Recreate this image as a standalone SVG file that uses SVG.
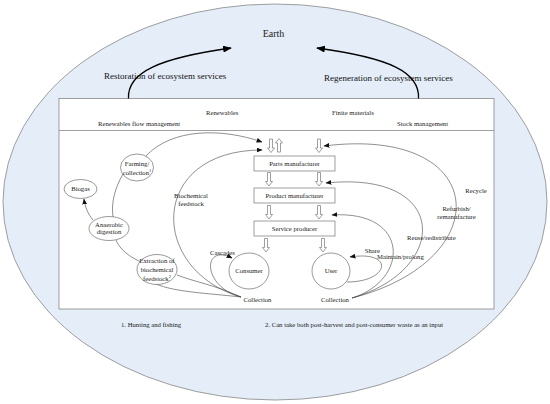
<svg xmlns="http://www.w3.org/2000/svg" width="550" height="404" viewBox="0 0 550 404">
<style>
text{font-family:"Liberation Serif","Times New Roman",serif;fill:#222}
.s{font-size:6.7px}
.m{font-size:9px;fill:#111}
.e{fill:#fff;stroke:#555;stroke-width:0.6}
.b{fill:#fff;stroke:#777;stroke-width:0.7}
.c{fill:none;stroke:#444;stroke-width:0.6}
.big{fill:none;stroke:#000;stroke-width:1.3}
</style>
<defs>
<marker id="ah" viewBox="0 0 10 8" refX="9" refY="4" markerWidth="6" markerHeight="5" orient="auto" markerUnits="userSpaceOnUse"><path d="M0,0 L10,4 L0,8 z" fill="#111"/></marker>
<marker id="ahb" viewBox="0 0 10 8" refX="9" refY="4" markerWidth="9" markerHeight="7" orient="auto" markerUnits="userSpaceOnUse"><path d="M0,0 L10,4 L0,8 z" fill="#000"/></marker>
<path id="harr" d="M-1.5,0 H1.5 V9 H3.5 L0,13.5 L-3.5,9 H-1.5 Z" fill="#fff" stroke="#777" stroke-width="0.7"/>
</defs>
<g id="earth">
<ellipse cx="275" cy="202" rx="272" ry="198" fill="#e4edf8" stroke="#888" stroke-width="0.8"/>
<text x="273.5" y="37" font-size="10" text-anchor="middle" fill="#111">Earth</text>
<text class="m" x="104" y="78.5">Restoration of ecosystem services</text>
<text class="m" x="324" y="80.5">Regeneration of ecosystem services</text>
</g>
<g id="frame">
<rect x="59" y="98.5" width="435" height="210.5" fill="#fff" stroke="#888" stroke-width="0.8"/>
<line x1="59" y1="130.5" x2="494" y2="130.5" stroke="#888" stroke-width="0.8"/>
<text class="s" x="206" y="115">Renewables</text>
<text class="s" x="98" y="125.5">Renewables flow management</text>
<text class="s" x="332" y="115">Finite materials</text>
<text class="s" x="397" y="125.5">Stock management</text>
</g>
<g id="connectors">
<path class="big" d="M128.5,98.5 C127,72 160,58 231,48" marker-end="url(#ahb)"/>
<path class="big" d="M418.5,98.5 C420,72 390,58 317,48" marker-end="url(#ahb)"/>
<path class="c" d="M146,156 C172,128 222,128 262,142" marker-end="url(#ah)"/>
<path class="c" d="M241,297 C148,270 148,150 262,150" marker-end="url(#ah)"/>
<path class="c" d="M123,174 C115,188 111,202 113,217"/>
<path class="c" d="M116,240 C120,250 130,257 141,262"/>
<path class="c" d="M241,297 C215,285 195,282 177,275"/>
<path class="c" d="M241,297 C205,293 175,292 156,284"/>
<path class="c" d="M93,220 C88,214 85,207 84,199" marker-end="url(#ah)"/>
<path class="c" d="M241,297 C202,287 202,243 232,258" marker-end="url(#ah)"/>
<path class="c" d="M352,298 C500,260 490,125 324,146" marker-end="url(#ah)"/>
<path class="c" d="M352,298 C450,270 450,170 326,183" marker-end="url(#ah)"/>
<path class="c" d="M352,298 C410,280 410,210 332,215" marker-end="url(#ah)"/>
<path class="c" d="M347,282 C390,282 395,250 350,257" marker-end="url(#ah)"/>
<use href="#harr" transform="translate(271,139)"/>
<use href="#harr" transform="translate(279,152) rotate(180)"/>
<use href="#harr" transform="translate(319,139)"/>
<use href="#harr" transform="translate(269,172.5)"/>
<use href="#harr" transform="translate(319,172.5)"/>
<use href="#harr" transform="translate(269,205.5)"/>
<use href="#harr" transform="translate(319,205.5)"/>
<use href="#harr" transform="translate(266,238.5)"/>
<use href="#harr" transform="translate(323,238.5)"/>
</g>
<g id="parts"><rect class="b" x="254" y="156" width="81" height="15"/><text class="s" x="294.5" y="166" text-anchor="middle">Parts manufacturer</text></g>
<g id="product"><rect class="b" x="254" y="188" width="81" height="15"/><text class="s" x="294.5" y="198" text-anchor="middle">Product manufacturer</text></g>
<g id="service"><rect class="b" x="254" y="221" width="81" height="15"/><text class="s" x="294.5" y="231" text-anchor="middle">Service producer</text></g>
<g id="biogas"><ellipse class="e" cx="80.5" cy="189" rx="16.5" ry="9.5"/><text class="s" x="80.5" y="191.3" text-anchor="middle">Biogas</text></g>
<g id="anaerobic"><ellipse class="e" cx="109" cy="228.5" rx="20" ry="12"/><text class="s" x="109" y="226.5" text-anchor="middle">Anaerobic</text><text class="s" x="109" y="234" text-anchor="middle">digestion</text></g>
<g id="farming"><ellipse class="e" cx="137" cy="167.5" rx="16.5" ry="13.5"/><text class="s" x="137" y="165.5" text-anchor="middle">Farming/</text><text class="s" x="137" y="174.5" text-anchor="middle">collection<tspan font-size="4.5" dy="-2.5">1</tspan></text></g>
<g id="extraction"><ellipse class="e" cx="157" cy="269.5" rx="20" ry="15"/><text class="s" x="157" y="263" text-anchor="middle">Extraction of</text><text class="s" x="157" y="272" text-anchor="middle">biochemical</text><text class="s" x="157" y="280.5" text-anchor="middle">feedstock<tspan font-size="4.5" dy="-2.5">2</tspan></text></g>
<g id="consumer"><ellipse class="e" cx="249" cy="271" rx="20" ry="18"/><text class="s" x="249" y="273" text-anchor="middle">Consumer</text></g>
<g id="user"><ellipse class="e" cx="331" cy="271" rx="19" ry="18"/><text class="s" x="331" y="273" text-anchor="middle">User</text></g>
<g id="labels">
<text class="s" x="191" y="197.5" text-anchor="middle">Biochemical</text>
<text class="s" x="191" y="205.5" text-anchor="middle">feedstock</text>
<text class="s" x="222.5" y="254.5" text-anchor="middle">Cascades</text>
<text class="s" x="257.5" y="301.5" text-anchor="middle">Collection</text>
<text class="s" x="335" y="301.5" text-anchor="middle">Collection</text>
<text class="s" x="364.7" y="253">Share</text>
<text class="s" x="377" y="258.5">Maintain/prolong</text>
<text class="s" x="407" y="239.5">Reuse/redistribute</text>
<text class="s" x="456.5" y="210.5" text-anchor="middle">Refurbish/</text>
<text class="s" x="456.5" y="219" text-anchor="middle">remanufacture</text>
<text class="s" x="476" y="192.5" text-anchor="middle">Recycle</text>
<text class="s" x="121" y="327">1. Hunting and fishing</text>
<text class="s" x="265" y="327">2. Can take both post-harvest and post-consumer waste as an input</text>
</g>
</svg>
